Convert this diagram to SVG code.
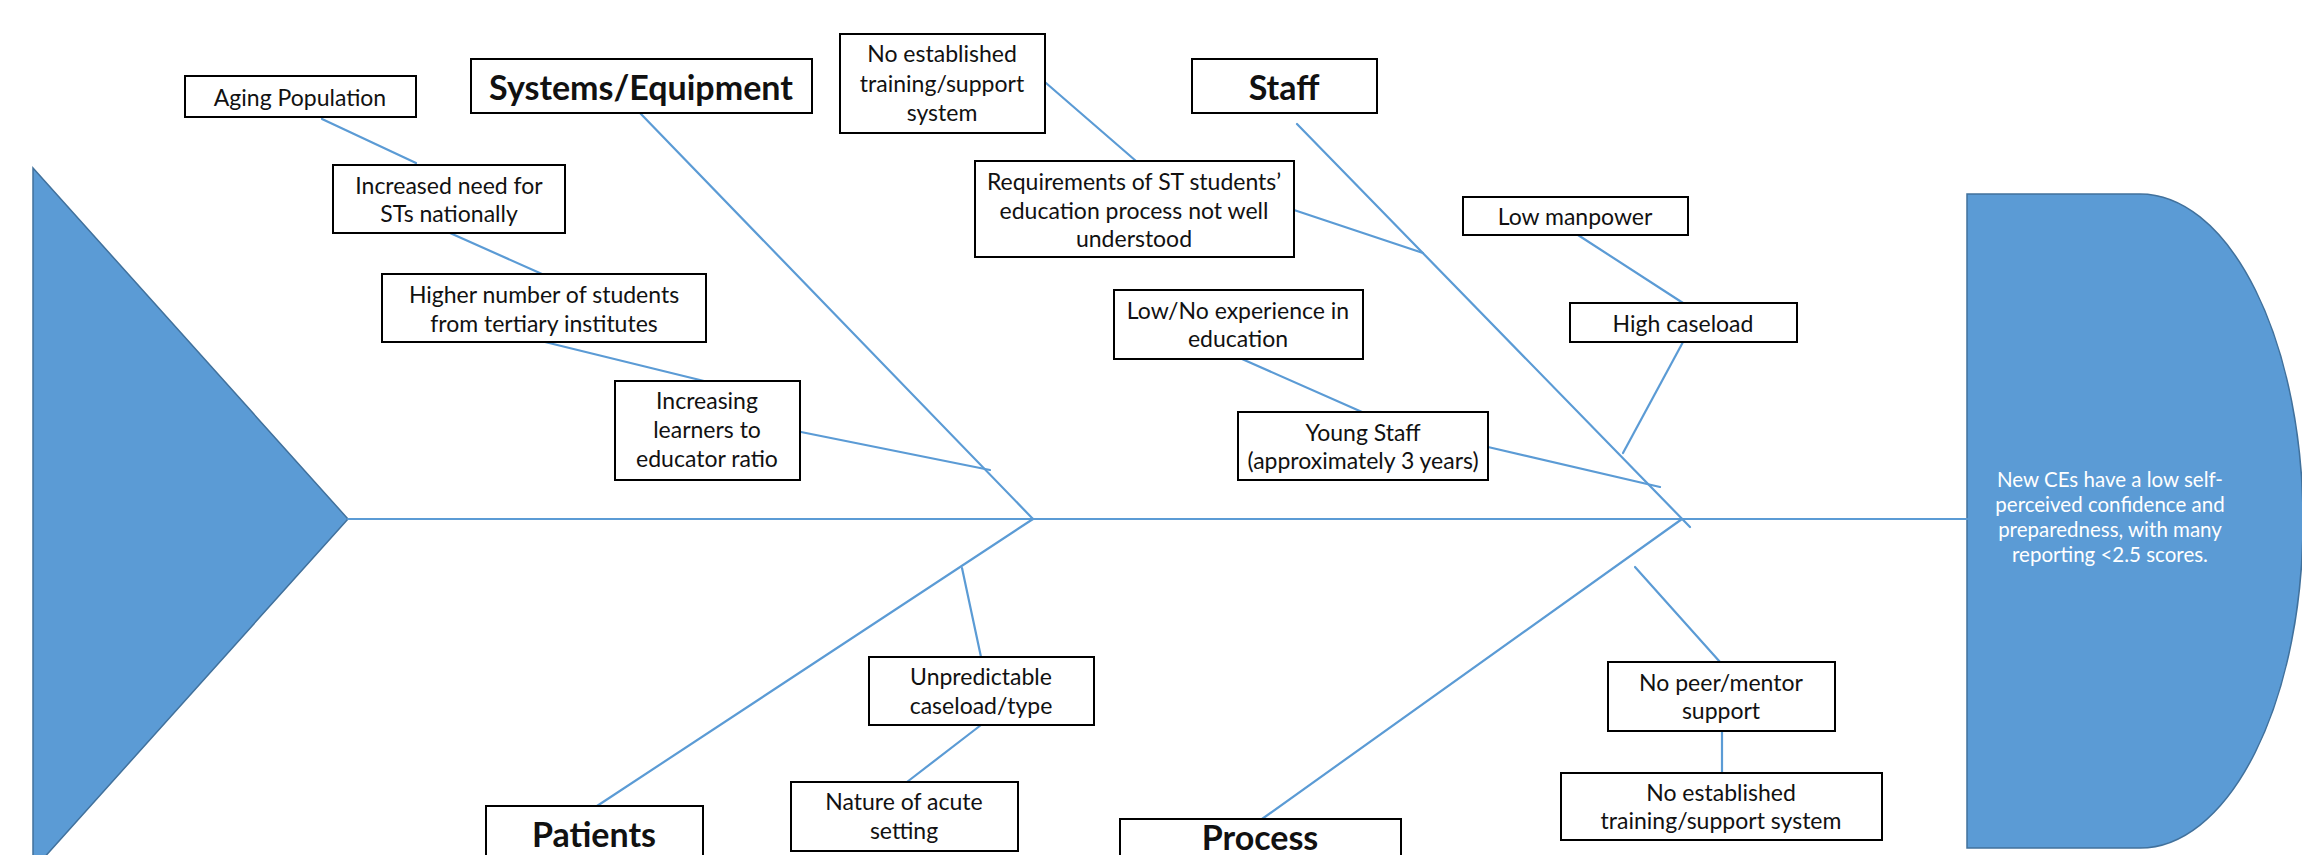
<svg xmlns="http://www.w3.org/2000/svg" width="2302" height="855" viewBox="0 0 2302 855">
<style>
.box{fill:#fff;stroke:#000;stroke-width:2}
.t{font-family:Lato,"Liberation Sans",sans-serif;font-size:23px;fill:#111;text-anchor:middle;dominant-baseline:central}
.hd{font-weight:bold;font-size:34px}
.ht{font-family:Lato,"Liberation Sans",sans-serif;font-size:20.5px;fill:#fff;text-anchor:middle;dominant-baseline:central}
.shape{fill:#5B9BD5;stroke:#41719C;stroke-width:1.5}
#connectors line{stroke:#5B9BD5;stroke-width:2.2;stroke-linecap:round}
</style>
<rect width="2302" height="855" fill="#fff"/>
<g id="tail"><polygon class="shape" points="33,168 348,519 33,870"/></g>
<g id="head">
<path class="shape" d="M1967,194 H2140 A163,327 0 0 1 2140,848 H1967 Z"/>
<text class="ht" x="2110"><tspan x="2110" y="479">New CEs have a low self-</tspan><tspan x="2110" y="504">perceived confidence and</tspan><tspan x="2110" y="529">preparedness, with many</tspan><tspan x="2110" y="554">reporting &lt;2.5 scores.</tspan></text>
</g>
<g id="connectors">
<line x1="348" y1="519" x2="1967" y2="519"/>
<line x1="640" y1="113" x2="1033" y2="519"/>
<line x1="1033" y1="519" x2="597" y2="806"/>
<line x1="1297" y1="124" x2="1690" y2="527"/>
<line x1="1682" y1="519" x2="1262" y2="819"/>
<line x1="322" y1="119" x2="416" y2="163"/>
<line x1="450" y1="233" x2="542" y2="274"/>
<line x1="545" y1="342" x2="704" y2="381"/>
<line x1="801" y1="432" x2="990" y2="470"/>
<line x1="1046" y1="83" x2="1136" y2="161"/>
<line x1="1294" y1="210" x2="1423" y2="253"/>
<line x1="1242" y1="359" x2="1362" y2="412"/>
<line x1="1488" y1="447" x2="1660" y2="487"/>
<line x1="1578" y1="235" x2="1683" y2="303"/>
<line x1="1683" y1="342" x2="1623" y2="453"/>
<line x1="1635" y1="567" x2="1720" y2="662"/>
<line x1="1722" y1="731" x2="1722" y2="781"/>
<line x1="962" y1="568" x2="981" y2="657"/>
<line x1="981" y1="725" x2="907" y2="782"/>
</g>
<g id="n-aging"><rect class="box" x="185" y="76" width="231" height="41"/><text class="t" x="300" y="97">Aging Population</text></g>
<g id="n-increased"><rect class="box" x="333" y="165" width="232" height="68"/><text class="t"><tspan x="449" y="185">Increased need for</tspan><tspan x="449" y="213">STs nationally</tspan></text></g>
<g id="n-higher"><rect class="box" x="382" y="274" width="324" height="68"/><text class="t"><tspan x="544" y="294">Higher number of students</tspan><tspan x="544" y="323">from tertiary institutes</tspan></text></g>
<g id="n-increasing"><rect class="box" x="615" y="381" width="185" height="99"/><text class="t"><tspan x="707" y="400">Increasing</tspan><tspan x="707" y="429">learners to</tspan><tspan x="707" y="458">educator ratio</tspan></text></g>
<g id="n-systems"><rect class="box" x="471" y="59" width="341" height="54"/><text class="t hd" x="641" y="86">Systems/Equipment</text></g>
<g id="n-noest-top"><rect class="box" x="840" y="34" width="205" height="99"/><text class="t"><tspan x="942" y="53">No established</tspan><tspan x="942" y="83">training/support</tspan><tspan x="942" y="112">system</tspan></text></g>
<g id="n-staff"><rect class="box" x="1192" y="59" width="185" height="54"/><text class="t hd" x="1284" y="86">Staff</text></g>
<g id="n-requirements"><rect class="box" x="975" y="161" width="319" height="96"/><text class="t"><tspan x="1134" y="181">Requirements of ST students’</tspan><tspan x="1134" y="210">education process not well</tspan><tspan x="1134" y="238">understood</tspan></text></g>
<g id="n-lowexp"><rect class="box" x="1114" y="290" width="249" height="69"/><text class="t"><tspan x="1238" y="310">Low/No experience in</tspan><tspan x="1238" y="338">education</tspan></text></g>
<g id="n-young"><rect class="box" x="1238" y="412" width="250" height="68"/><text class="t"><tspan x="1363" y="432">Young Staff</tspan><tspan x="1363" y="460">(approximately 3 years)</tspan></text></g>
<g id="n-lowman"><rect class="box" x="1463" y="197" width="225" height="38"/><text class="t" x="1575" y="216">Low manpower</text></g>
<g id="n-highcase"><rect class="box" x="1570" y="303" width="227" height="39"/><text class="t" x="1683" y="323">High caseload</text></g>
<g id="n-patients"><rect class="box" x="486" y="806" width="217" height="70"/><text class="t hd" x="594" y="833">Patients</text></g>
<g id="n-unpred"><rect class="box" x="869" y="657" width="225" height="68"/><text class="t"><tspan x="981" y="676">Unpredictable</tspan><tspan x="981" y="705">caseload/type</tspan></text></g>
<g id="n-nature"><rect class="box" x="791" y="782" width="227" height="69"/><text class="t"><tspan x="904" y="801">Nature of acute</tspan><tspan x="904" y="830">setting</tspan></text></g>
<g id="n-process"><rect class="box" x="1120" y="819" width="281" height="60"/><text class="t hd" x="1260" y="836">Process</text></g>
<g id="n-nopeer"><rect class="box" x="1608" y="662" width="227" height="69"/><text class="t"><tspan x="1721" y="682">No peer/mentor</tspan><tspan x="1721" y="710">support</tspan></text></g>
<g id="n-noest-bot"><rect class="box" x="1561" y="773" width="321" height="67"/><text class="t"><tspan x="1721" y="792">No established</tspan><tspan x="1721" y="820">training/support system</tspan></text></g>
</svg>
